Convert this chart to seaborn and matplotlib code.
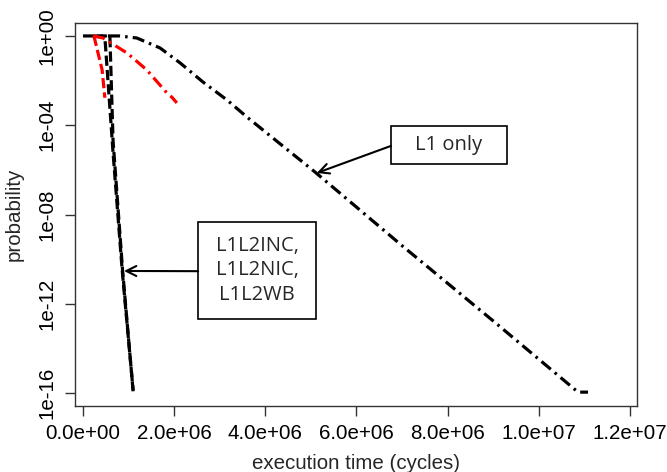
import numpy as np
import pandas as pd
import matplotlib
matplotlib.use('Agg')
import matplotlib.pyplot as plt
import matplotlib.patches as mpatches
import seaborn as sns

# Curves (cycles, probability)
l1_only_x = [0, 4.0e5, 8.0e5, 1.18e6, 1.69e6, 2.13e6, 2.63e6, 3.16e6, 3.6e6,
             5.09e6, 7.0e6, 9.0e6, 1.086e7, 1.108e7]
l1_only_p = [1, 1, 1, 0.81, 0.29, 6.2e-2, 8.7e-3, 1.35e-3, 2.3e-4,
             8.0e-7, 4.0e-10, 1.7e-13, 1.1e-16, 1.1e-16]

l1l2inc_x = [2.6e5, 4.8e5, 6.6e5, 8.6e5, 1.1e6]
l1l2inc_p = [1, 0.9, 5.8e-6, 3.2e-11, 1.35e-16]

l1l2wb_x = [3.0e5, 5.9e5, 6.6e5, 8.7e5, 1.1e6]
l1l2wb_p = [1, 1, 2.0e-5, 3.0e-11, 1.2e-16]

red_steep_x = [2.4e5, 4.2e5, 4.8e5]
red_steep_p = [1, 3.0e-2, 1.7e-3]

red_curve_x = [2.2e5, 4.4e5, 9.7e5, 1.4e6, 1.84e6, 1.95e6, 2.06e6]
red_curve_p = [1, 0.81, 0.17, 3.0e-2, 2.8e-3, 1.8e-3, 1.0e-3]

x_ticks = [0, 2e6, 4e6, 6e6, 8e6, 1e7, 1.2e7]
x_labels = ['0.0e+00', '2.0e+06', '4.0e+06', '6.0e+06', '8.0e+06', '1.0e+07', '1.2e+07']
y_ticks = [1e0, 1e-4, 1e-8, 1e-12, 1e-16]
y_labels = ['1e+00', '1e-04', '1e-08', '1e-12', '1e-16']

sns.set_theme(style='ticks')
plt.rcParams['font.family'] = ['Liberation Sans', 'DejaVu Sans']

fig = plt.figure(figsize=(6.67, 4.72), dpi=100)
ax = fig.add_axes([75 / 667, 66 / 472, 562 / 667, 383 / 472])

lw = 2.3
dotdash = (3.8, 1.6, 0.8, 1.6)
dashed = (3.2, 1.3)

sns.lineplot(x=l1_only_x, y=l1_only_p, ax=ax, color='black', lw=lw,
             dashes=dotdash, sort=False, estimator=None)
sns.lineplot(x=l1l2inc_x, y=l1l2inc_p, ax=ax, color='black', lw=lw,
             dashes=dashed, sort=False, estimator=None)
sns.lineplot(x=l1l2wb_x, y=l1l2wb_p, ax=ax, color='black', lw=lw,
             dashes=dashed, sort=False, estimator=None)
sns.lineplot(x=red_steep_x, y=red_steep_p, ax=ax, color='#ff0000', lw=lw,
             dashes=dashed, sort=False, estimator=None)
sns.lineplot(x=red_curve_x, y=red_curve_p, ax=ax, color='#ff0000', lw=lw,
             dashes=dotdash, sort=False, estimator=None)

ax.set_yscale('log')
ax.set_xlim(-1.75e5, 1.2154e7)
ax.set_ylim(10 ** -16.58, 10 ** 0.58)
ax.minorticks_off()
ax.set_xticks(x_ticks)
ax.set_xticklabels(x_labels)
ax.set_yticks(y_ticks)
ax.set_yticklabels(y_labels, rotation=90, va='center')
ax.tick_params(axis='both', length=7, width=1, color='#333333',
               labelsize=14.8, pad=6, labelcolor='black')

for s in ax.spines.values():
    s.set_color('#333333')
    s.set_linewidth(1)

ax.set_xlabel('execution time (cycles)', fontsize=14.8, labelpad=8)
ax.set_ylabel('probability', fontsize=14.8, labelpad=10)

# annotation boxes
box_font = ['Open Sans', 'DejaVu Sans']
ax.add_patch(mpatches.Rectangle((0.562, 0.632), 0.206, 0.0992, transform=ax.transAxes,
                                fill=False, ec='black', lw=1.2))
ax.text(0.665, 0.681, 'L1 only', transform=ax.transAxes, ha='center', va='center',
        fontsize=14.5, family=box_font)
ax.annotate('', xy=(5.13e6, 10 ** -6.14), xycoords='data',
            xytext=(0.562, 0.679), textcoords='axes fraction',
            arrowprops=dict(arrowstyle='->,head_length=0.6,head_width=0.3',
                            lw=1.5, color='black', shrinkA=0, shrinkB=0))

ax.add_patch(mpatches.Rectangle((0.219, 0.227), 0.210, 0.253, transform=ax.transAxes,
                                fill=False, ec='black', lw=1.2))
ax.text(0.324, 0.354, 'L1L2INC,\nL1L2NIC,\nL1L2WB', transform=ax.transAxes,
        ha='center', va='center', fontsize=14.5, family=box_font, linespacing=1.3)
ax.annotate('', xy=(9.0e5, 10 ** -10.53), xycoords='data',
            xytext=(0.219, 0.352), textcoords='axes fraction',
            arrowprops=dict(arrowstyle='->,head_length=0.6,head_width=0.3',
                            lw=1.5, color='black', shrinkA=0, shrinkB=0))

fig.savefig('out.png', dpi=100)
